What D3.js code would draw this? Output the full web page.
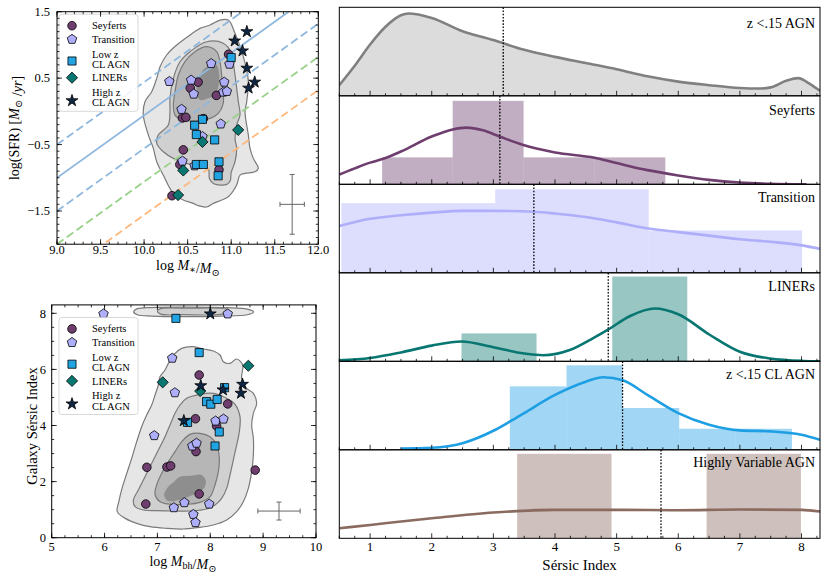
<!DOCTYPE html>
<html><head><meta charset="utf-8">
<script src="https://cdn.jsdelivr.net/npm/d3@7"></script>
<style>
body{margin:0;background:#fff}
svg{font-family:"Liberation Serif","DejaVu Serif",serif}
</style>
</head><body>
<svg id="c" width="830" height="580"></svg>
<script>
// ================= DATA =================
// Panel A: log SFR vs log M*
const seyfertsSfr=[[10.97,0.86],[10.53,0.35],[10.62,0.44],[10.83,0.24],[10.44,-0.10],[10.48,-0.09],[10.68,-0.11],[10.45,-0.58],[10.41,-0.80],[10.86,-0.88],[10.32,-1.27]];
const transitionSfr=[[10.77,0.72],[10.98,0.71],[10.29,0.45],[10.54,0.47],[10.92,0.44],[10.57,0.26],[10.91,0.29],[10.95,0.30],[10.43,0.03],[10.88,-0.19],[10.67,-0.38],[10.44,-0.75],[10.58,-0.82]];
const lowzClSfr=[[11.00,0.81],[10.67,-0.12],[10.58,-0.21],[10.60,-0.35],[10.81,-0.43],[10.60,-0.80],[10.68,-0.80],[10.86,-0.76],[10.85,-0.97]];
const linersSfr=[[11.08,-0.28],[10.67,-0.46],[10.45,-0.89],[10.39,-1.26]];
const highzClSfr=[[11.18,1.20],[11.04,1.06],[11.13,0.91],[11.18,0.65],[11.27,0.44],[11.20,0.35]];
// main-sequence style relations: offset at log M*=9 and slope
const msOffsets=[-1.0,-0.5,-1.5,-2.0,-2.5];
const msSlope=0.94;
const sfrErr={x:11.7,y:-1.4,dx:0.14,dy:0.45};
// density contours (data coords)
const sfrLevel1=[[10.757,1.299],[10.871,1.374],[10.967,1.374],[11.044,1.174],[11.121,0.898],[11.178,0.622],[11.197,0.446],[11.178,0.145],[11.159,-0.006],[11.197,-0.357],[11.216,-0.557],[11.254,-0.708],[11.311,-0.858],[11.273,-0.909],[11.159,-0.933],[11.101,-0.959],[11.063,-1.109],[10.967,-1.285],[10.891,-1.335],[10.795,-1.385],[10.718,-1.44],[10.622,-1.42],[10.565,-1.385],[10.450,-1.335],[10.335,-1.234],[10.220,-0.959],[10.145,-0.758],[10.106,-0.557],[10.049,-0.357],[9.991,-0.056],[10.010,0.145],[10.087,0.296],[10.145,0.497],[10.183,0.672],[10.259,0.848],[10.374,0.998],[10.527,1.149],[10.642,1.249]];
const sfrLevel2=[[10.718,1.048],[10.909,1.024],[11.005,0.873],[11.025,0.722],[11.044,0.547],[11.063,0.346],[11.082,0.145],[11.101,-0.056],[11.063,-0.206],[11.044,-0.407],[11.063,-0.557],[11.044,-0.758],[11.0,-0.92],[10.99,-1.04],[10.95,-1.10],[10.80,-1.09],[10.75,-1.01],[10.74,-0.87],[10.68,-0.834],[10.489,-0.783],[10.336,-0.708],[10.221,-0.608],[10.145,-0.482],[10.163,-0.357],[10.278,-0.206],[10.297,-0.006],[10.297,0.196],[10.336,0.497],[10.412,0.747],[10.527,0.898]];
const sfrLevel3=[[10.718,0.973],[10.833,0.898],[10.871,0.747],[10.890,0.547],[10.901,0.346],[10.909,0.120],[10.852,-0.03],[10.757,-0.106],[10.604,-0.146],[10.450,-0.131],[10.355,-0.056],[10.336,0.095],[10.355,0.296],[10.393,0.547],[10.469,0.747],[10.584,0.898]];
const sfrLevel4=[[10.776,0.722],[10.680,0.622],[10.622,0.471],[10.604,0.296],[10.642,0.170],[10.737,0.196],[10.814,0.246],[10.852,0.371],[10.863,0.547],[10.833,0.697]];

// Panel B: Sersic index vs log Mbh
const seyfertsN=[[7.79,5.80],[8.33,4.77],[7.72,4.24],[8.12,3.98],[7.73,3.07],[6.80,2.51],[7.18,2.52],[7.25,2.56],[8.85,2.41],[7.79,1.56],[6.78,1.20]];
const transitionN=[[5.98,7.98],[8.33,7.98],[7.28,6.40],[7.33,5.17],[8.10,4.16],[8.25,4.23],[6.94,3.64],[7.66,3.27],[7.74,3.37],[7.31,1.07],[7.51,1.25],[7.98,1.20],[7.68,0.83],[7.72,0.54]];
const lowzClN=[[7.35,7.82],[7.79,6.60],[8.27,5.35],[7.93,4.85],[8.01,4.76],[8.13,4.93],[7.57,4.11],[8.17,3.77],[8.09,3.27]];
const linersN=[[8.72,6.13],[7.10,5.54],[7.81,5.23]];
const highzClN=[[8.00,7.98],[7.82,5.42],[8.24,5.27],[8.61,5.47],[8.58,5.15],[7.50,4.17]];
const nErr={x:9.3,y:0.95,dx:0.4,dy:0.32};
const nLevel1=[[7.680,6.811],[7.869,6.727],[8.058,6.656],[8.184,6.513],[8.247,6.276],[8.373,6.216],[8.499,6.371],[8.613,6.157],[8.594,5.682],[8.688,5.325],[8.815,5.147],[8.878,4.790],[8.815,4.434],[8.783,4.018],[8.815,3.543],[8.815,2.948],[8.783,2.354],[8.720,1.760],[8.625,1.285],[8.499,0.928],[8.310,0.631],[8.058,0.453],[7.743,0.358],[7.490,0.310],[7.175,0.334],[6.860,0.393],[6.608,0.512],[6.40,0.68],[6.24,0.93],[6.27,1.285],[6.33,1.760],[6.41,2.235],[6.513,2.830],[6.608,3.424],[6.702,3.958],[6.797,4.374],[6.892,4.731],[6.955,5.087],[7.018,5.444],[7.049,5.741],[7.144,5.979],[7.207,6.216],[7.301,6.513],[7.459,6.751]];
const nLevel2=[[7.554,4.969],[7.806,5.111],[8.058,5.147],[8.310,4.969],[8.468,4.755],[8.562,4.315],[8.550,3.780],[8.499,3.305],[8.436,2.770],[8.373,2.235],[8.310,1.760],[8.215,1.403],[8.089,1.166],[7.932,1.023],[7.617,0.952],[7.301,0.952],[6.986,0.964],[6.734,0.988],[6.576,1.107],[6.545,1.344],[6.639,1.701],[6.765,2.176],[6.892,2.651],[7.018,3.127],[7.144,3.602],[7.238,4.018],[7.333,4.434],[7.427,4.731]];
const nLevel3=[[7.617,3.685],[7.806,3.721],[7.995,3.602],[8.121,3.305],[8.171,2.830],[8.152,2.354],[8.089,1.879],[7.995,1.463],[7.806,1.261],[7.554,1.190],[7.270,1.190],[7.049,1.285],[6.955,1.546],[6.986,1.879],[7.081,2.295],[7.207,2.711],[7.333,3.067],[7.459,3.424]];
const nLevel4=[[7.427,2.176],[7.648,2.212],[7.837,2.236],[7.919,1.998],[7.869,1.736],[7.743,1.582],[7.585,1.463],[7.396,1.344],[7.207,1.309],[7.125,1.499],[7.188,1.784],[7.314,1.998]];
const nTopOuter=[[6.55,8.05],[6.62,7.95],[6.9,7.9],[7.5,7.88],[8.2,7.9],[8.7,7.95],[8.82,8.05],[8.7,8.15],[8.3,8.2],[7.5,8.22],[6.8,8.2],[6.6,8.15]];
const nTopInner=[[7.0,8.08],[7.06,7.97],[7.5,7.95],[8.2,7.96],[8.37,8.05],[8.3,8.15],[7.6,8.18],[7.05,8.16]];

// Right column: Sersic index distributions (density, arbitrary units)
const panelLabels=["z <.15 AGN","Seyferts","Transition","LINERs","z <.15 CL AGN","Highly Variable AGN"];
const medians=[3.16,3.105,3.657,4.864,5.096,5.72];
const allAgnKde=[[0.5,0.12],[0.75,0.34],[1.0,0.58],[1.25,0.78],[1.5,0.91],[1.62,0.93],[2.0,0.88],[2.5,0.73],[3.0,0.63],[3.5,0.52],[4.0,0.44],[4.5,0.37],[5.0,0.30],[5.5,0.22],[6.0,0.16],[6.5,0.12],[7.0,0.088],[7.3,0.082],[7.5,0.095],[7.75,0.17],[7.95,0.20],[8.1,0.15],[8.3,0.056]];
const seyfertKde=[[0.5,0.11],[0.75,0.18],[1.0,0.245],[1.2,0.285],[1.5,0.37],[2.0,0.54],[2.34,0.62],[2.56,0.64],[2.83,0.61],[3.1,0.54],[3.5,0.44],[4.0,0.36],[4.64,0.30],[5.0,0.24],[5.5,0.16],[6.0,0.10],[6.5,0.05],[7.0,0.02],[7.5,0.006],[8.08,0.0]];
const transitionKde=[[0.5,0.53],[1.0,0.61],[1.5,0.65],[2.0,0.68],[2.5,0.70],[3.0,0.70],[3.66,0.69],[4.0,0.67],[4.5,0.63],[5.0,0.57],[5.52,0.50],[6.0,0.46],[6.5,0.42],[7.0,0.38],[7.5,0.35],[8.0,0.31],[8.3,0.27]];
const linerKde=[[0.5,0.012],[1.0,0.038],[1.5,0.10],[2.0,0.177],[2.48,0.223],[3.0,0.158],[3.5,0.088],[3.81,0.069],[4.24,0.127],[4.62,0.262],[4.86,0.358],[5.22,0.512],[5.62,0.596],[6.0,0.531],[6.51,0.30],[7.0,0.108],[7.49,0.031],[8.03,0.004],[8.3,0.0]];
const clAgnKde=[[1.5,0.015],[2.0,0.023],[2.5,0.075],[3.0,0.215],[3.27,0.32],[3.5,0.415],[4.0,0.62],[4.5,0.77],[4.78,0.82],[5.1,0.785],[5.5,0.62],[6.0,0.415],[6.5,0.283],[7.0,0.219],[7.5,0.208],[8.0,0.17],[8.3,0.113]];
const hvAgnKde=[[0.5,0.113],[1.0,0.151],[2.0,0.226],[3.0,0.291],[4.0,0.321],[5.0,0.321],[6.0,0.317],[7.0,0.325],[8.0,0.321],[8.3,0.302]];
const seyfertEdges=[1.195,2.34,3.49,4.64,5.79], seyfertHeights=[0.304,0.943,0.304,0.304];
const transitionEdges=[0.535,3.03,5.52,8.01], transitionHeights=[0.787,0.944,0.478];
const linerEdges=[2.483,3.70,4.929,6.146], linerHeights=[0.315,0,0.958];
const clAgnEdges=[3.267,4.187,5.096,6.016,6.925,7.845], clAgnHeights=[0.717,0.955,0.472,0.238,0.238];
const hvAgnEdges=[3.386,4.918,6.46,7.99], hvAgnHeights=[0.955,0,0.955];
const sersicTicks=[1,2,3,4,5,6,7,8];

// ================= STYLE =================
const C={sey:"#6e3e6e",tra:"#aeaefa",low:"#22a3e2",lin:"#087671",hig:"#0f2744",hv:"#8b6a5f",grey:"#808080"};
const svg=d3.select("#c");

function pentagon(r){const p=d3.path();for(let k=0;k<5;k++){const a=-Math.PI/2+k*2*Math.PI/5;k?p.lineTo(r*Math.cos(a),r*Math.sin(a)):p.moveTo(r*Math.cos(a),r*Math.sin(a));}p.closePath();return p.toString();}
function diamond(r){return `M0,${-r}L${r},0L0,${r}L${-r},0Z`;}
const shapes={
 circle:d3.symbol(d3.symbolCircle,58)(),
 pent:pentagon(5.0),
 square:d3.symbol(d3.symbolSquare,66)(),
 diamond:diamond(5.6),
 star:d3.symbol(d3.symbolStar,44)()
};
const groups=[
 {key:"sey",shape:"circle",label:["Seyferts"]},
 {key:"tra",shape:"pent",label:["Transition"]},
 {key:"low",shape:"square",label:["Low z","CL AGN"]},
 {key:"lin",shape:"diamond",label:["LINERs"]},
 {key:"hig",shape:"star",label:["High z","CL AGN"]}
];

function ticks4(g,xs,ys,xMaj,xMin,yMaj,yMin){
 const [xa,xb]=xs.range(),[yb,yt]=ys.range();
 const t=g.append("g").attr("stroke","#000").attr("stroke-width",0.8);
 const L=(x1,y1,x2,y2)=>t.append("line").attr("x1",x1).attr("y1",y1).attr("x2",x2).attr("y2",y2);
 xMin.forEach(v=>{const x=xs(v);L(x,yb,x,yb-2.5);L(x,yt,x,yt+2.5);});
 xMaj.forEach(v=>{const x=xs(v);L(x,yb,x,yb-5);L(x,yt,x,yt+5);});
 yMin.forEach(v=>{const y=ys(v);L(xa,y,xa+2.5,y);L(xb,y,xb-2.5,y);});
 yMaj.forEach(v=>{const y=ys(v);L(xa,y,xa+5,y);L(xb,y,xb-5,y);});
}
function contour(g,pts,xs,ys,fill,stroke){
 g.append("path").attr("d",d3.line().x(d=>xs(d[0])).y(d=>ys(d[1])).curve(d3.curveCatmullRomClosed.alpha(0.5))(pts))
  .attr("fill",fill).attr("stroke",stroke?"#7a7a7a":"none").attr("stroke-width",1.2);
}
function scatter(g,data,xs,ys,grp){
 g.append("g").selectAll("path").data(data).join("path")
  .attr("d",shapes[grp.shape]).attr("transform",d=>`translate(${xs(d[0])},${ys(d[1])})`)
  .attr("fill",C[grp.key]).attr("stroke","#000").attr("stroke-width",0.8);
}
function errbar(g,e,xs,ys){
 const q=g.append("g").attr("stroke","#666").attr("stroke-width",1);
 const cx=xs(e.x),cy=ys(e.y),x1=xs(e.x-e.dx),x2=xs(e.x+e.dx),y1=ys(e.y+e.dy),y2=ys(e.y-e.dy);
 q.append("line").attr("x1",x1).attr("x2",x2).attr("y1",cy).attr("y2",cy);
 q.append("line").attr("x1",cx).attr("x2",cx).attr("y1",y1).attr("y2",y2);
 [x1,x2].forEach(x=>q.append("line").attr("x1",x).attr("x2",x).attr("y1",cy-2.5).attr("y2",cy+2.5));
 [y1,y2].forEach(y=>q.append("line").attr("x1",cx-2.5).attr("x2",cx+2.5).attr("y1",y).attr("y2",y));
}
function legend(g,x0,y0){
 g.append("rect").attr("x",x0).attr("y",y0).attr("width",79).attr("height",97).attr("rx",3)
  .attr("fill","#fff").attr("fill-opacity",0.85).attr("stroke","#cfcfcf").attr("stroke-width",0.8);
 const my=[11.4,25,46.7,63.4,86.4];
 const ty=[[10.7],[25],[40,50.3],[63.4],[78,88.4]];
 groups.forEach((gr,i)=>{
  g.append("path").attr("d",shapes[gr.shape]).attr("transform",`translate(${x0+13},${y0+my[i]})`)
   .attr("fill",C[gr.key]).attr("stroke","#000").attr("stroke-width",0.8);
  gr.label.forEach((s,j)=>g.append("text").attr("x",x0+33).attr("y",y0+ty[i][j]+3.6)
   .attr("font-size",10.5).text(s));
 });
}
function msub(sel,base,sub){ // italic M with subscript
 sel.append("tspan").attr("font-style","italic").text(base);
 sel.append("tspan").attr("font-size","0.72em").attr("dy",3).text(sub);
 sel.append("tspan").attr("dy",-3).text("");
}

// ================= PANEL A =================
const xA=d3.scaleLinear().domain([9,12]).range([57,318.3]);
const yA=d3.scaleLinear().domain([-2,1.5]).range([244.2,11.7]);
svg.append("clipPath").attr("id","clipA").append("rect").attr("x",57).attr("y",11.7).attr("width",261.3).attr("height",232.5);
const gA=svg.append("g");
const gAc=gA.append("g").attr("clip-path","url(#clipA)");
contour(gAc,sfrLevel1,xA,yA,"#e6e6e6",true);
contour(gAc,sfrLevel2,xA,yA,"#d0d0d0",true);
contour(gAc,sfrLevel3,xA,yA,"#b6b6b6",true);
contour(gAc,sfrLevel4,xA,yA,"#8e8e8e",false);
const lineCols=["#8fb8de","#8fb8de","#8fb8de","#98d18a","#fdb97e"];
msOffsets.forEach((a,i)=>{
 const f=x=>a+msSlope*(x-9);
 gAc.append("line").attr("x1",xA(9)).attr("y1",yA(f(9))).attr("x2",xA(12)).attr("y2",yA(f(12)))
  .attr("stroke",lineCols[i]).attr("stroke-width",1.8).attr("stroke-dasharray",i===0?null:"8,4");
});
errbar(gA,sfrErr,xA,yA);
[seyfertsSfr,transitionSfr,lowzClSfr,linersSfr,highzClSfr].forEach((d,i)=>scatter(gAc,d,xA,yA,groups[i]));
legend(gA,59,14.3);
gA.append("rect").attr("x",57).attr("y",11.7).attr("width",261.3).attr("height",232.5).attr("fill","none").attr("stroke","#000").attr("stroke-width",1);
ticks4(gA,xA,yA,d3.range(18,25).map(v=>v/2),d3.range(90,121).map(v=>v/10),[1.5,0.5,-0.5,-1.5],d3.range(-20,16).map(v=>v/10));
[9,9.5,10,10.5,11,11.5,12].forEach(v=>gA.append("text").attr("x",xA(v)).attr("y",253.5).attr("text-anchor","middle").attr("font-size",12.5).text(v.toFixed(1)));
[1.5,0.5,-0.5,-1.5].forEach(v=>gA.append("text").attr("x",50).attr("y",yA(v)+4.3).attr("text-anchor","end").attr("font-size",12.5).text(d3.format(".1f")(v).replace("-","−")));
{const t=gA.append("text").attr("x",188).attr("y",270).attr("text-anchor","middle").attr("font-size",14);
 t.append("tspan").text("log ");msub(t,"M","∗");t.append("tspan").text("/");msub(t,"M","⊙");}
{const t=gA.append("text").attr("transform","translate(19,128) rotate(-90)").attr("text-anchor","middle").attr("font-size",14);
 t.append("tspan").text("log(SFR) [");msub(t,"M","⊙");t.append("tspan").text(" /");t.append("tspan").attr("font-style","italic").text("yr");t.append("tspan").text("]");}

// ================= PANEL B =================
const xB=d3.scaleLinear().domain([5,10]).range([51.7,316]);
const yB=d3.scaleLinear().domain([0,8.3]).range([537.7,304.9]);
svg.append("clipPath").attr("id","clipB").append("rect").attr("x",51.7).attr("y",304.9).attr("width",264.3).attr("height",232.8);
const gB=svg.append("g");
const gBc=gB.append("g").attr("clip-path","url(#clipB)");
contour(gBc,nLevel1,xB,yB,"#e6e6e6",true);
contour(gBc,nTopOuter,xB,yB,"#e6e6e6",true);
contour(gBc,nLevel2,xB,yB,"#d0d0d0",true);
contour(gBc,nTopInner,xB,yB,"#d0d0d0",true);
contour(gBc,nLevel3,xB,yB,"#b6b6b6",true);
contour(gBc,nLevel4,xB,yB,"#8e8e8e",false);
errbar(gB,nErr,xB,yB);
[seyfertsN,transitionN,lowzClN,linersN,highzClN].forEach((d,i)=>scatter(gBc,d,xB,yB,groups[i]));
legend(gB,59,317.5);
gB.append("rect").attr("x",51.7).attr("y",304.9).attr("width",264.3).attr("height",232.8).attr("fill","none").attr("stroke","#000").attr("stroke-width",1);
ticks4(gB,xB,yB,d3.range(5,11),d3.range(20,41).map(v=>v/4),[0,2,4,6,8],d3.range(0,17).map(v=>v/2));
d3.range(5,11).forEach(v=>gB.append("text").attr("x",xB(v)).attr("y",551).attr("text-anchor","middle").attr("font-size",12.5).text(v));
[0,2,4,6,8].forEach(v=>gB.append("text").attr("x",46).attr("y",yB(v)+4.3).attr("text-anchor","end").attr("font-size",12.5).text(v));
{const t=gB.append("text").attr("x",183).attr("y",566).attr("text-anchor","middle").attr("font-size",14);
 t.append("tspan").text("log ");msub(t,"M","bh");t.append("tspan").text("/");msub(t,"M","⊙");}
gB.append("text").attr("transform","translate(37,426) rotate(-90)").attr("text-anchor","middle").attr("font-size",14.5).text("Galaxy Sérsic Index");

// ================= RIGHT COLUMN =================
const xR=d3.scaleLinear().domain([0.5,8.3]).range([339.3,820]);
const pTop=7.3,pH=88.5;
const panels=[
 {kde:allAgnKde,col:C.grey,fill:"#dcdcdc"},
 {kde:seyfertKde,col:C.sey,edges:seyfertEdges,h:seyfertHeights},
 {kde:transitionKde,col:C.tra,edges:transitionEdges,h:transitionHeights},
 {kde:linerKde,col:C.lin,edges:linerEdges,h:linerHeights},
 {kde:clAgnKde,col:"#1e9fe4",edges:clAgnEdges,h:clAgnHeights},
 {kde:hvAgnKde,col:C.hv,edges:hvAgnEdges,h:hvAgnHeights}
];
const labOff=[21,19,17.5,18,18,17];
panels.forEach((p,i)=>{
 const top=pTop+i*pH;
 const yR=d3.scaleLinear().domain([0,1]).range([top+pH,top]);
 const cid="clipR"+i;
 svg.append("clipPath").attr("id",cid).append("rect").attr("x",339.3).attr("y",top).attr("width",480.7).attr("height",pH);
 const g=svg.append("g");
 const gc=g.append("g").attr("clip-path",`url(#${cid})`);
 if(p.edges){
  gc.selectAll("rect.bar").data(p.h).join("rect").attr("class","bar")
   .attr("x",(d,j)=>xR(p.edges[j])).attr("width",(d,j)=>xR(p.edges[j+1])-xR(p.edges[j]))
   .attr("y",d=>yR(d)).attr("height",d=>yR(0)-yR(d))
   .attr("fill",p.col).attr("fill-opacity",0.42);
 }
 if(p.fill){
  gc.append("path").attr("d",d3.area().x(d=>xR(d[0])).y0(yR(0)).y1(d=>yR(d[1])).curve(d3.curveMonotoneX)(p.kde)).attr("fill",p.fill);
 }
 gc.append("path").attr("d",d3.line().x(d=>xR(d[0])).y(d=>yR(d[1])).curve(d3.curveMonotoneX)(p.kde))
  .attr("fill","none").attr("stroke",p.col).attr("stroke-width",2.6);
 gc.append("line").attr("x1",xR(medians[i])).attr("x2",xR(medians[i])).attr("y1",top).attr("y2",top+pH)
  .attr("stroke","#000").attr("stroke-width",1.3).attr("stroke-dasharray","1.6,1.6");
 g.append("rect").attr("x",339.3).attr("y",top).attr("width",480.7).attr("height",pH).attr("fill","none").attr("stroke","#000").attr("stroke-width",1);
 const t=g.append("g").attr("stroke","#000").attr("stroke-width",0.8);
 d3.range(2,34).map(v=>v/4).forEach(v=>{const len=Number.isInteger(v)?5:2.5;
  t.append("line").attr("x1",xR(v)).attr("x2",xR(v)).attr("y1",top+pH).attr("y2",top+pH-len);});
 g.append("text").attr("x",815).attr("y",top+labOff[i]).attr("text-anchor","end").attr("font-size",14).text(panelLabels[i]);
});
sersicTicks.forEach(v=>svg.append("text").attr("x",xR(v)).attr("y",550.5).attr("text-anchor","middle").attr("font-size",13).text(v));
svg.append("text").attr("x",579.6).attr("y",570).attr("text-anchor","middle").attr("font-size",15).text("Sérsic Index");
</script>
</body></html>
